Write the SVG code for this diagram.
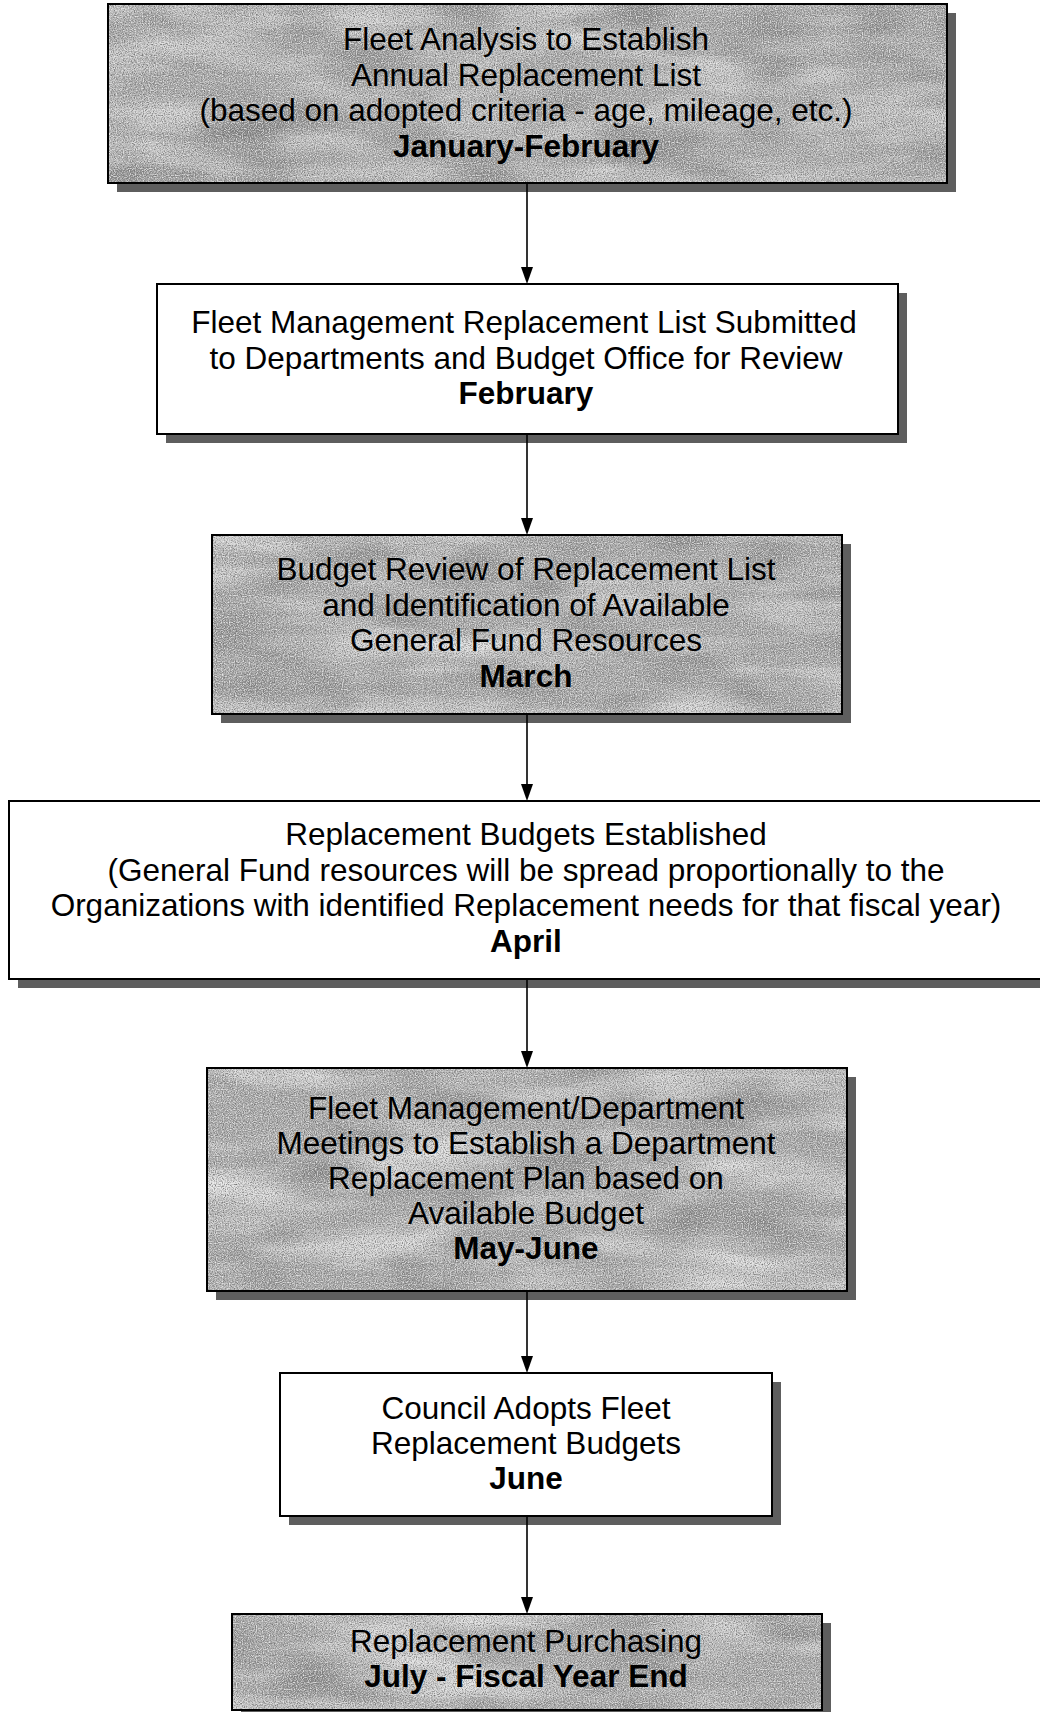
<svg xmlns="http://www.w3.org/2000/svg" width="1040" height="1712" viewBox="0 0 1040 1712">
<style>
  .shadow { fill: #5e5e5e; }
  .plain { fill: #ffffff; }
  .tex { fill: #000; filter: url(#mottle); }
  .border { fill: none; stroke: #000; stroke-width: 2; }
  text { font-family: "Liberation Sans", Arial, Helvetica, sans-serif; font-size: 31.5px; text-anchor: middle; fill: #000; }
  .b { font-weight: bold; }
  .conn { stroke: #000; stroke-width: 1.6; fill: none; }
  .head { fill: #000; }
</style>
<defs>
  <filter id="mottle" x="0" y="0" width="1" height="1" primitiveUnits="userSpaceOnUse" color-interpolation-filters="sRGB">
    <feFlood flood-color="#a6a6a6" result="base"/>
    <feTurbulence type="fractalNoise" baseFrequency="0.006 0.03" numOctaves="3" seed="7" result="coarse"/>
    <feColorMatrix in="coarse" type="matrix" values="0 0 0 0 1  0 0 0 0 1  0 0 0 0 1  1.7 0 0 0 -0.68" result="streaks"/>
    <feTurbulence type="fractalNoise" baseFrequency="0.01 0.02" numOctaves="2" seed="21" result="coarse2"/>
    <feColorMatrix in="coarse2" type="matrix" values="0 0 0 0 0  0 0 0 0 0  0 0 0 0 0  0.7 0 0 0 -0.33" result="darks"/>
    <feTurbulence type="fractalNoise" baseFrequency="0.9" numOctaves="1" seed="3" result="fine"/>
    <feColorMatrix in="fine" type="matrix" values="0 0 0 0 0.45  0 0 0 0 0.45  0 0 0 0 0.45  2.6 0 0 0 -1.05" result="grain"/>
    <feTurbulence type="fractalNoise" baseFrequency="0.85" numOctaves="1" seed="11" result="fine2"/>
    <feColorMatrix in="fine2" type="matrix" values="0 0 0 0 0.92  0 0 0 0 0.92  0 0 0 0 0.92  2.6 0 0 0 -1.1" result="grain2"/>
    <feMerge result="all">
      <feMergeNode in="base"/>
      <feMergeNode in="streaks"/>
      <feMergeNode in="darks"/>
      <feMergeNode in="grain"/>
      <feMergeNode in="grain2"/>
    </feMerge>
    <feComposite in="all" in2="SourceAlpha" operator="in"/>
  </filter>
</defs>
<rect x="0" y="0" width="1040" height="1712" fill="#fff"/>

<g id="node-fleet-analysis">
  <rect class="shadow" x="117" y="13" width="839" height="179"/>
  <rect class="tex" x="108" y="4" width="839" height="179"/>
  <rect class="border" x="108" y="4" width="839" height="179"/>
  <text x="526" y="50">Fleet Analysis to Establish</text>
  <text x="526" y="85.5">Annual Replacement List</text>
  <text x="526" y="121">(based on adopted criteria - age, mileage, etc.)</text>
  <text x="526" y="156.5" class="b">January-February</text>
</g>

<g id="node-list-submitted">
  <rect class="shadow" x="166" y="293" width="741" height="150"/>
  <rect class="plain" x="157" y="284" width="741" height="150"/>
  <rect class="border" x="157" y="284" width="741" height="150"/>
  <text x="524" y="333">Fleet Management Replacement List Submitted</text>
  <text x="526" y="368.5">to Departments and Budget Office for Review</text>
  <text x="526" y="404" class="b">February</text>
</g>

<g id="node-budget-review">
  <rect class="shadow" x="221" y="544" width="630" height="179"/>
  <rect class="tex" x="212" y="535" width="630" height="179"/>
  <rect class="border" x="212" y="535" width="630" height="179"/>
  <text x="526" y="580">Budget Review of Replacement List</text>
  <text x="526" y="615.5">and Identification of Available</text>
  <text x="526" y="651">General Fund Resources</text>
  <text x="526" y="686.5" class="b">March</text>
</g>

<g id="node-budgets-established">
  <rect class="shadow" x="18" y="810" width="1036" height="178"/>
  <rect class="plain" x="9" y="801" width="1036" height="178"/>
  <rect class="border" x="9" y="801" width="1036" height="178"/>
  <text x="526" y="845">Replacement Budgets Established</text>
  <text x="526" y="880.5">(General Fund resources will be spread proportionally to the</text>
  <text x="526" y="916">Organizations with identified Replacement needs for that fiscal year)</text>
  <text x="526" y="951.5" class="b">April</text>
</g>

<g id="node-department-meetings">
  <rect class="shadow" x="216" y="1077" width="640" height="223"/>
  <rect class="tex" x="207" y="1068" width="640" height="223"/>
  <rect class="border" x="207" y="1068" width="640" height="223"/>
  <text x="526" y="1119">Fleet Management/Department</text>
  <text x="526" y="1154">Meetings to Establish a Department</text>
  <text x="526" y="1189">Replacement Plan based on</text>
  <text x="526" y="1224">Available Budget</text>
  <text x="526" y="1259" class="b">May-June</text>
</g>

<g id="node-council-adopts">
  <rect class="shadow" x="289" y="1382" width="492" height="143"/>
  <rect class="plain" x="280" y="1373" width="492" height="143"/>
  <rect class="border" x="280" y="1373" width="492" height="143"/>
  <text x="526" y="1419">Council Adopts Fleet</text>
  <text x="526" y="1454">Replacement Budgets</text>
  <text x="526" y="1489" class="b">June</text>
</g>

<g id="node-purchasing">
  <rect class="shadow" x="241" y="1623" width="590" height="96"/>
  <rect class="tex" x="232" y="1614" width="590" height="96"/>
  <rect class="border" x="232" y="1614" width="590" height="96"/>
  <text x="526" y="1652">Replacement Purchasing</text>
  <text x="526" y="1687" class="b">July - Fiscal Year End</text>
</g>

<g id="connectors">
  <line class="conn" x1="527" y1="183" x2="527" y2="270"/>
  <polygon class="head" points="527,284 521,267 533,267"/>
  <line class="conn" x1="527" y1="434" x2="527" y2="521"/>
  <polygon class="head" points="527,535 521,518 533,518"/>
  <line class="conn" x1="527" y1="714" x2="527" y2="787"/>
  <polygon class="head" points="527,801 521,784 533,784"/>
  <line class="conn" x1="527" y1="979" x2="527" y2="1054"/>
  <polygon class="head" points="527,1068 521,1051 533,1051"/>
  <line class="conn" x1="527" y1="1291" x2="527" y2="1359"/>
  <polygon class="head" points="527,1373 521,1356 533,1356"/>
  <line class="conn" x1="527" y1="1516" x2="527" y2="1600"/>
  <polygon class="head" points="527,1614 521,1597 533,1597"/>
</g>
</svg>
